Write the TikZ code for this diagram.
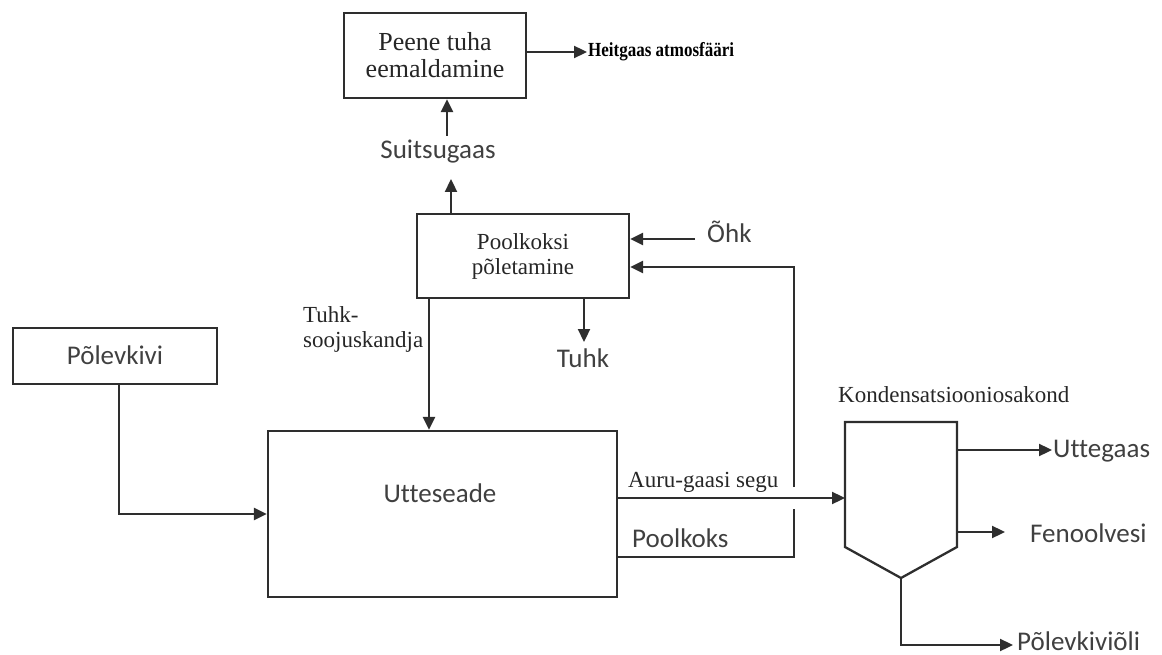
\documentclass[tikz,border=0pt]{standalone}
\usepackage{fontspec}
\setmainfont{Liberation Serif}
\newfontfamily\calfont[Ligatures=NoCommon]{Carlito}
\newfontfamily\heitfont[FakeStretch=0.85]{Liberation Serif}
\usetikzlibrary{arrows.meta,calc}
\definecolor{lncol}{HTML}{2E2E2E}
\definecolor{sanscol}{HTML}{404040}
\definecolor{serifcol}{HTML}{262626}
\begin{document}
\begin{tikzpicture}[x=1pt,y=-1pt,
  box/.style={draw=lncol,line width=2.3pt,rectangle,inner sep=0pt},
  arr/.style={draw=lncol,line width=2.3pt,-{Triangle[length=13pt,width=12pt]}},
  plainline/.style={draw=lncol,line width=2.3pt},
  sans/.style={font=\calfont\fontsize{27}{30}\selectfont,text=sanscol,inner sep=0pt},
  serif/.style={font=\fontsize{23}{25}\selectfont,text=serifcol,inner sep=0pt},
]
\useasboundingbox (0,0) rectangle (1162,655);
% boxes
\node[box,minimum width=182pt,minimum height=85pt,align=center,
      font=\fontsize{26}{27}\selectfont,text=serifcol] (top) at (435,55.5) {Peene tuha\\eemaldamine};
\node[box,minimum width=212pt,minimum height=84pt,align=center,
      font=\fontsize{23}{25}\selectfont,text=serifcol] (pk) at (523,256) {Poolkoksi\\põletamine};
\node[box,minimum width=204pt,minimum height=56pt] (pv) at (115,356) {};
\node[sans,anchor=base] (pvl) at (115,364) {Põlevkivi};
\node[box,minimum width=349pt,minimum height=166pt] (ut) at (442.5,514) {};
\node[sans,anchor=base] (utl) at (440,502) {Utteseade};
% condenser
\coordinate (c1) at (845,422);
\coordinate (c2) at (957,422);
\coordinate (c3) at (957,547);
\coordinate (cb) at (901,578);
\coordinate (c4) at (845,547);
\draw[plainline,line join=miter] (c1) -- (c2) -- (c3) -- (cb) -- (c4) -- cycle;
\node[serif,anchor=base west] (kond) at (838,402) {Kondensatsiooniosakond};
% labels
\node[anchor=base west,inner sep=0pt,font=\heitfont\bfseries\fontsize{20}{22}\selectfont,text=black] (heit) at (588,57) {Heitgaas atmosfääri};
\node[sans,anchor=base] (suits) at (438,159) {Suitsugaas};
\node[sans,anchor=base west] (ohk) at (707,243) {Õhk};
\node[sans,anchor=base] (tuhk) at (583,367) {Tuhk};
\node[serif,anchor=base west,align=left] (tsk) at (303,347) {Tuhk-\\soojuskandja};
\node[serif,anchor=base west] (aur) at (628,487) {Auru-gaasi segu};
\node[sans,anchor=base west] (pks) at (632,547) {Poolkoks};
\node[sans,anchor=base west] (utg) at (1053,457) {Uttegaas};
\node[sans,anchor=base west] (fen) at (1030,542) {Fenoolvesi};
\node[sans,anchor=base west] (oli) at (1017,650) {Põlevkiviõli};
% coordinates for connectors
\coordinate (heitin) at (587,52);
\coordinate (suitsup) at (447,136);
\coordinate (pkup) at (451,179);
\coordinate (ohkst) at (695,239);
\coordinate (tuhkend) at (584,342);
\coordinate (tskx) at (429,300);
\coordinate (kin) at (845,498);
\coordinate (rb) at (794,557);
\coordinate (gapbot) at (794,509);
\coordinate (gaptop) at (794,487);
\coordinate (rt) at (794,267);
\coordinate (utgout) at (957,450);
\coordinate (utgend) at (1052,450);
\coordinate (fenout) at (957,532);
\coordinate (fenend) at (1005,532);
\coordinate (olicorner) at (901,645);
\coordinate (oliend) at (1013,645);
% connectors
\draw[arr] (top.east |- heitin) -- (heitin);
\draw[arr] (suitsup) -- (suitsup |- top.south);
\draw[arr] (pk.north -| pkup) -- (pkup);
\draw[arr] (ohkst) -- (ohkst -| pk.east);
\draw[arr] (pk.south -| tuhkend) -- (tuhkend);
\draw[arr] (pk.south -| tskx) -- (tskx |- ut.north);
\draw[arr] (pv.south -| 119,0) |- (ut.west);
\draw[arr] (ut.east |- kin) -- (kin);
\draw[plainline] (ut.east |- rb) -- (rb) -- (gapbot);
\draw[arr] (gaptop) -- (rt) -- (rt -| pk.east);
\draw[arr] (utgout) -- (utgend);
\draw[arr] (fenout) -- (fenend);
\draw[arr] (cb) -- (olicorner) -- (oliend);
\end{tikzpicture}
\end{document}
